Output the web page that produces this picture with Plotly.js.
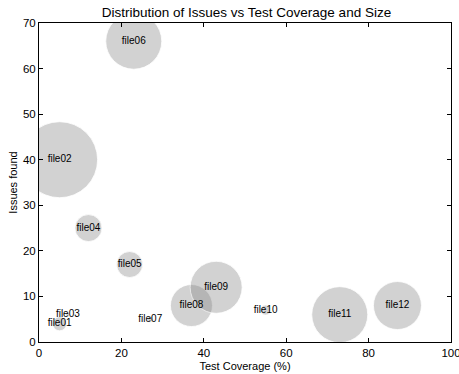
<!DOCTYPE html>
<html>
<head>
<meta charset="utf-8">
<script src="https://cdn.plot.ly/plotly-3.0.1.min.js"></script>
<style>html,body{margin:0;padding:0;background:#fff}#chart{width:459px;height:374px}</style>
</head>
<body>
<div id="chart"></div>
<script>
const files = ["file01","file02","file03","file04","file05","file06","file07","file08","file09","file10","file11","file12"];
const coverage = [5, 5, 7, 12, 22, 23, 27, 37, 43, 55, 73, 87];
const issues = [4, 40, 6, 25, 17, 66, 5, 8, 12, 7, 6, 8];
const fileSize = [196, 5776, 16, 729, 676, 3136, 36, 1764, 2704, 100, 3136, 2304];
const xTicks = [0, 20, 40, 60, 80, 100];
const yTicks = [0, 10, 20, 30, 40, 50, 60, 70];

const font = "Liberation Sans, Arial, sans-serif";
const trace = {
  type: "scatter",
  mode: "markers+text",
  x: coverage,
  y: issues,
  text: files,
  textposition: "middle center",
  textfont: {family: font, size: 10, color: "#000"},
  marker: {
    size: fileSize,
    sizemode: "area",
    sizeref: 2,
    color: "rgba(128,128,128,0.5)",
    line: {color: "#ffffff", width: 0.8}
  },
  cliponaxis: true,
  hoverinfo: "none"
};
const axisCommon = {
  showgrid: false,
  zeroline: false,
  showline: true,
  linecolor: "#000",
  linewidth: 1,
  mirror: "ticks",
  ticks: "inside",
  ticklen: 4,
  tickcolor: "#000",
  ticklabeloverflow: "allow",
  tickfont: {family: font, size: 11.5, color: "#000"}
};
const layout = {
  width: 459, height: 374,
  margin: {l: 39, r: 8, t: 23, b: 32},
  paper_bgcolor: "#fff", plot_bgcolor: "#fff",
  showlegend: false,
  title: {text: "Distribution of Issues vs Test Coverage and Size", font: {family: font, size: 13.5, color: "#000"}, x: 0.537, xanchor: "center", y: 0.968, yanchor: "middle"},
  xaxis: Object.assign({}, axisCommon, {range: [0, 100], tickvals: xTicks, title: {text: "Test Coverage (%)", font: {family: font, size: 11, color: "#000"}, standoff: 4}}),
  yaxis: Object.assign({}, axisCommon, {range: [0, 70], tickvals: yTicks, title: {text: "Issues found", font: {family: font, size: 11, color: "#000"}, standoff: 3}})
};
Plotly.newPlot("chart", [trace], layout, {displayModeBar: false, staticPlot: true});
</script>
</body>
</html>
